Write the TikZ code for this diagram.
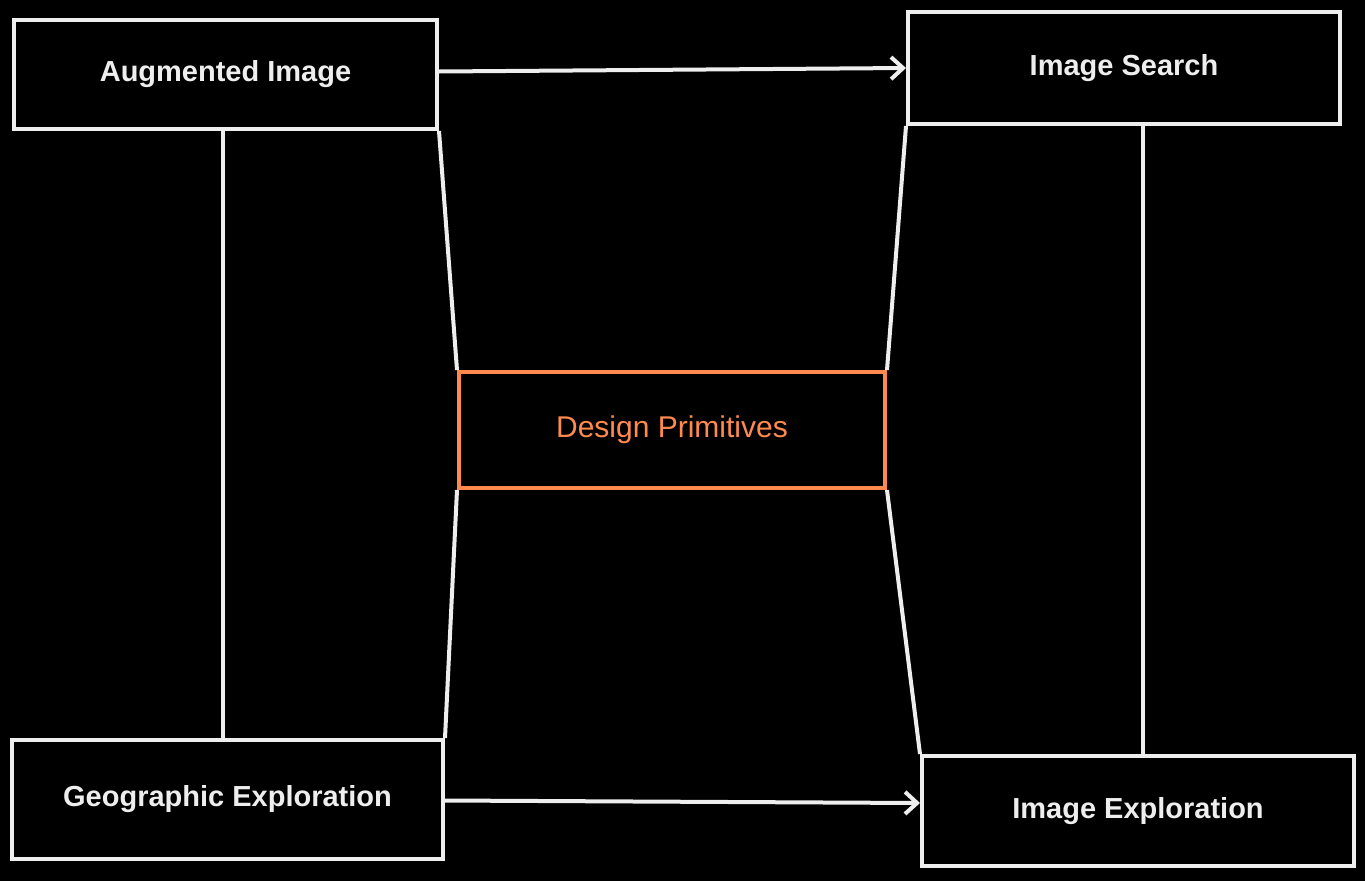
\documentclass[tikz,border=0pt]{standalone}
\usepackage{fontspec}
\setmainfont{Liberation Sans}
\usetikzlibrary{arrows.meta}
\definecolor{ink}{HTML}{EEEEEE}
\definecolor{accent}{HTML}{FF8A50}
\tikzset{
  box/.style={draw=ink, line width=4pt, text=ink, font=\bfseries\fontsize{29}{34}\selectfont, inner sep=0pt},
  centerbox/.style={draw=accent, line width=4pt, text=accent, font=\fontsize{30}{35}\selectfont, inner sep=0pt},
  link/.style={draw=ink, line width=4pt},
  arr/.style={link, -{Straight Barb[length=12pt,width=22pt,line width=4pt]}}
}
\begin{document}
\begin{tikzpicture}[x=1pt,y=-1pt]
\fill[black] (0,0) rectangle (1365,881);
\useasboundingbox (0,0) rectangle (1365,881);
\node[box, minimum width=423pt, minimum height=109pt] (tl) at (225.5,74.5) {Augmented Image};
\node[box, minimum width=432pt, minimum height=112pt] (tr) at (1124,68) {Image Search};
\node[box, minimum width=431pt, minimum height=119pt] (bl) at (227.5,799.5) {Geographic Exploration};
\node[box, minimum width=432pt, minimum height=110pt] (br) at (1138,811) {Image Exploration};
\node[centerbox, minimum width=426pt, minimum height=116pt] (c) at (672,430) {Design Primitives};
\draw[arr] ([yshift=3pt]tl.east) -- (tr.west);
\draw[arr] ([yshift=-1pt]bl.east) -- ([yshift=8pt]br.west);
\draw[link] ([xshift=-3pt]tl.south) -- ([xshift=-5pt]bl.north);
\draw[link] ([xshift=19pt]tr.south) -- ([xshift=5pt]br.north);
\draw[link] (tl.south east) -- (c.north west);
\draw[link] (c.south west) -- (bl.north east);
\draw[link] (tr.south west) -- (c.north east);
\draw[link] (c.south east) -- (br.north west);
\end{tikzpicture}
\end{document}
